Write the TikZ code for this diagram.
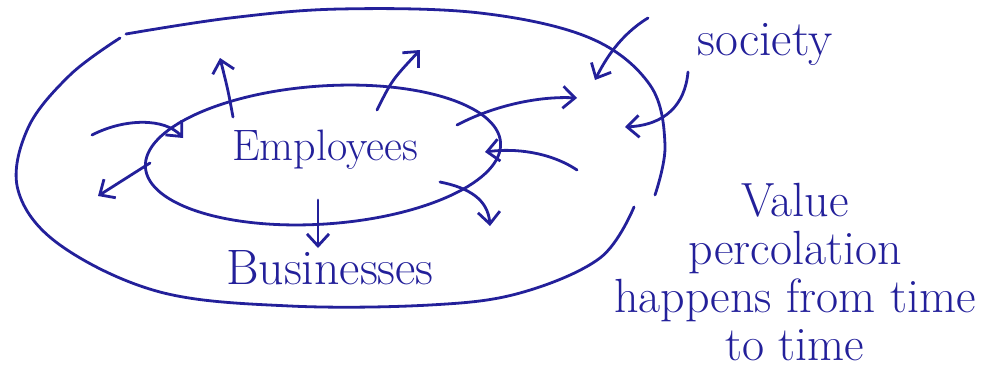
\documentclass[tikz,border=0pt]{standalone}
\usepackage{tikz}
\usetikzlibrary{arrows.meta,shapes.geometric}
\definecolor{cInk}{HTML}{23209A}
\tikzset{
  ink/.style={draw=cInk, line width=1.4pt, line cap=round, line join=round},
  ar/.style={ink, -{Straight Barb[length=6pt,width=11pt]}},
  hand/.style={text=cInk, inner sep=0pt, font=\Huge}
}
\begin{document}
\begin{tikzpicture}[x=0.5pt,y=-0.5pt]
\useasboundingbox (0,0) rectangle (1008,370);
% outer ring (society)
\draw[ink] plot[smooth, tension=0.6] coordinates {(126,34) (230,18) (340,9) (480,13) (590,38) (650,85) (665,145) (655,195)};
\draw[ink] plot[smooth, tension=0.6] coordinates {(634,207) (600,258) (520,293) (430,305) (290,306) (160,292) (60,245) (18,190) (28,128) (70,75) (120,38)};
% inner ring (employees)
\node[ink, ellipse, minimum width=178pt, minimum height=69pt, rotate=4] (emp) at (323,155) {};
\node[hand, font=\fontsize{22}{22}\selectfont] (empl) at (325,150) {Employees};
\node[hand] (bus) at (330,268) {Businesses};
\node[hand] (soc) at (765,45) {society};
\node[hand, align=center, font=\fontsize{24}{24}\selectfont] (val) at (795,272) {Value\\percolation\\happens from time\\to time};
% arrow ends
\coordinate (l1) at (92,135);  \coordinate (l2) at (183,138);
\coordinate (l3) at (150,163); \coordinate (l4) at (98,196);
\coordinate (t1) at (233,117); \coordinate (t2) at (220,58);
\coordinate (t3) at (377,110); \coordinate (t4) at (420,50);
\coordinate (r1) at (457,125); \coordinate (r2) at (577,98);
\coordinate (r3) at (577,170); \coordinate (r4) at (485,152);
\coordinate (r5) at (440,182); \coordinate (r6) at (490,226);
\coordinate (b1) at (318,200); \coordinate (b2) at (318,248);
\coordinate (s1) at (648,18);  \coordinate (s2) at (595,80);
\coordinate (s3) at (688,72);  \coordinate (s4) at (625,127);
\draw[ar] (l1) .. controls (125,118) and (165,118) .. (l2);
\draw[ar] (l3) -- (l4);
\draw[ar] (t1) .. controls (228,90) .. (t2);
\draw[ar] (t3) .. controls (392,80) .. (t4);
\draw[ar] (r1) .. controls (495,105) and (540,96) .. (r2);
\draw[ar] (r3) .. controls (550,152) and (515,148) .. (r4);
\draw[ar] (r5) .. controls (470,188) and (488,200) .. (r6);
\draw[ar] (b1) -- (b2);
\draw[ar] (s1) .. controls (620,35) and (605,60) .. (s2);
\draw[ar] (s3) .. controls (685,105) and (665,125) .. (s4);
\end{tikzpicture}
\end{document}
